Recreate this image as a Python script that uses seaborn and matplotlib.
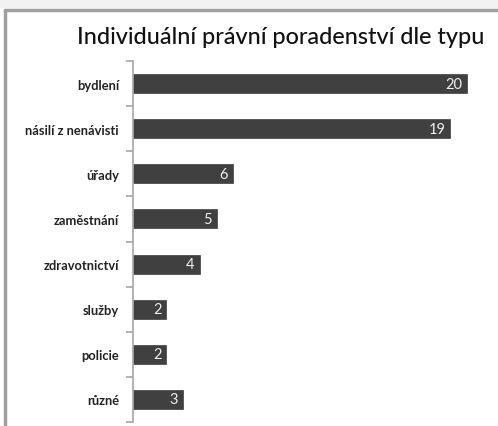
import matplotlib
matplotlib.use("Agg")
import matplotlib.pyplot as plt
import seaborn as sns
import pandas as pd
import numpy as np
from matplotlib.patches import Rectangle
from matplotlib.lines import Line2D

categories = ["bydlení", "násilí z nenávisti", "úřady", "zaměstnání",
              "zdravotnictví", "služby", "policie", "různé"]
values = [20, 19, 6, 5, 4, 2, 2, 3]
title = "Individuální právní poradenství dle typu"

sns.set_theme(style="white")
plt.rcParams['font.family'] = ['Lato', 'DejaVu Sans']

df = pd.DataFrame({"typ": categories, "pocet": values})

fig = plt.figure(figsize=(4.98, 4.27), dpi=100, facecolor="white")
ax = fig.add_axes([133/498, 1 - 423/427, (492 - 133)/498, (423 - 62)/427])

sns.barplot(data=df, y="typ", x="pocet", orient="h", color="#404040",
            saturation=1, width=0.42, ax=ax, edgecolor="#404040", linewidth=0.5)

ax.set_xlim(0, 359/16.7)
ax.set_ylim(len(categories) - 0.5, -0.5)
ax.set_xlabel("")
ax.set_ylabel("")
ax.set_xticks([])
ax.set_facecolor("white")
for s in ["top", "right", "bottom"]:
    ax.spines[s].set_visible(False)
ax.spines["left"].set_color("#a6a6a6")
ax.spines["left"].set_linewidth(1.2)

n = len(categories)
ax.set_yticks(np.arange(-0.5, n, 1.0))
ax.set_yticklabels([])
ax.tick_params(axis="y", which="major", direction="out", length=5, width=1.2,
               color="#a6a6a6", left=True)
ax.set_yticks(np.arange(n), minor=True)
ax.set_yticklabels(categories, minor=True, fontweight="bold", fontsize=9.3,
                   color="#222222")
ax.tick_params(axis="y", which="minor", length=0, pad=10)

for i, v in enumerate(values):
    ax.text(v - 0.3, i, str(v), ha="right", va="center", color="#f0f0f0",
            fontsize=10.5)

fig.text(281/498, 1 - 38/427, title, ha="center", va="center",
         fontsize=16.8, color="#111111", fontweight="medium")

# outer frame / background strip
fig.patches.append(Rectangle((0, 1 - 9/427), 1, 9/427, transform=fig.transFigure,
                             facecolor="#f2f2f2", edgecolor="none", zorder=0))
fig.lines.append(Line2D([4.5/498, 1], [1 - 10.5/427, 1 - 10.5/427],
                        transform=fig.transFigure, color="#a0a0a0", lw=2.5))
fig.lines.append(Line2D([4.5/498, 4.5/498], [0, 1 - 10.5/427],
                        transform=fig.transFigure, color="#a0a0a0", lw=2.5))

fig.savefig("out.png", dpi=100, facecolor="white")
